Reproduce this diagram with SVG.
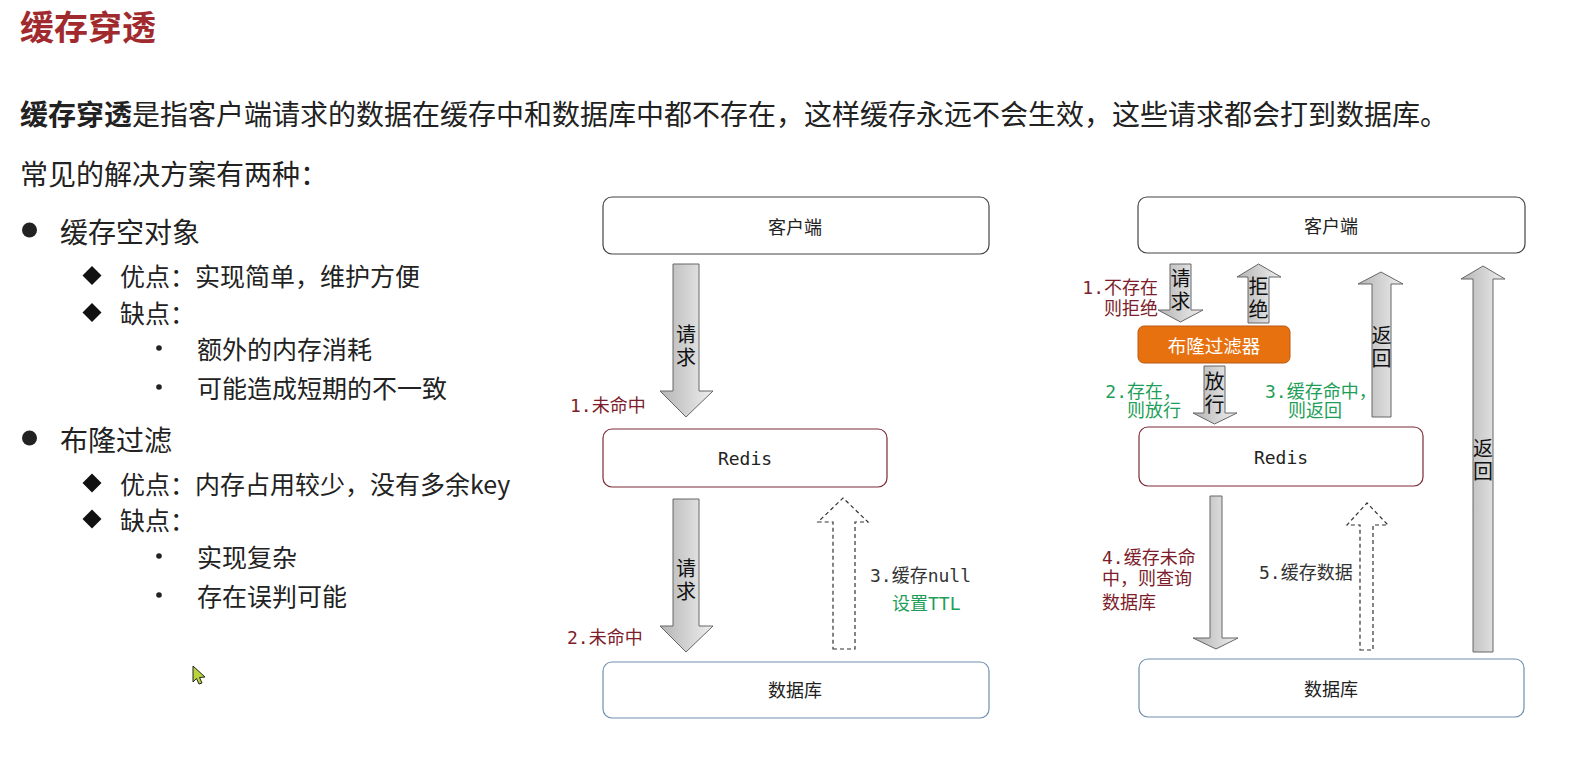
<svg xmlns="http://www.w3.org/2000/svg" width="1572" height="767" viewBox="0 0 1572 767">
<defs>
<linearGradient id="ag" x1="0" y1="0" x2="1" y2="0">
<stop offset="0" stop-color="#b4b4b4"/>
<stop offset="1" stop-color="#efefef"/>
</linearGradient>
<style>
.cjk{font-family:"Noto Sans CJK SC","Noto Sans",sans-serif;fill:#222}
.title{font-size:34px;font-weight:600;fill:#a12a2f}
.l0{font-size:28px}
.l1{font-size:28px}
.l2{font-size:25px}
.dl{font-family:"DejaVu Sans Mono","Noto Sans CJK SC",monospace;font-size:18px}
.red{fill:#7d1d2b}
.green{fill:#1e9e58}
.gray{fill:#333}
.bt{font-family:"Noto Sans CJK SC",sans-serif;font-size:18px;fill:#222}
.mono{font-family:"DejaVu Sans Mono",monospace;font-size:18px;fill:#222}
.vl{font-family:"Noto Sans CJK SC",sans-serif;font-size:20px;fill:#111;writing-mode:tb;letter-spacing:3px}
.box{fill:#fff;stroke:#444;stroke-width:1.2}
.rbox{fill:#fff;stroke:#7a2a35;stroke-width:1.2}
.dbox{fill:#fff;stroke:#7090b0;stroke-width:1.2}
.arr{fill:url(#ag);stroke:#666;stroke-width:1}
.darr{fill:#fff;stroke:#333;stroke-width:1.2;stroke-dasharray:4 3}
text{dominant-baseline:central}
</style>
</defs>
<rect width="1572" height="767" fill="#fff"/>

<g id="text-block">
<text class="cjk title" x="20" y="25">缓存穿透</text>
<text class="cjk l0" x="20" y="113"><tspan font-weight="bold">缓存穿透</tspan>是指客户端请求的数据在缓存中和数据库中都不存在，这样缓存永远不会生效，这些请求都会打到数据库。</text>
<text class="cjk l0" x="20" y="173">常见的解决方案有两种：</text>

<circle cx="29.5" cy="230" r="7.5" fill="#222"/>
<text class="cjk l1" x="60" y="231">缓存空对象</text>
<polygon points="92,266 101.5,275.5 92,285 82.5,275.5" fill="#111"/>
<text class="cjk l2" x="120" y="275">优点：实现简单，维护方便</text>
<polygon points="92,303 101.5,312.5 92,322 82.5,312.5" fill="#111"/>
<text class="cjk l2" x="120" y="312">缺点：</text>
<circle cx="159" cy="348" r="2.8" fill="#222"/>
<text class="cjk l2" x="197" y="348">额外的内存消耗</text>
<circle cx="159" cy="387" r="2.8" fill="#222"/>
<text class="cjk l2" x="197" y="387">可能造成短期的不一致</text>

<circle cx="29.5" cy="438" r="7.5" fill="#222"/>
<text class="cjk l1" x="60" y="439">布隆过滤</text>
<polygon points="92,473.5 101.5,483 92,492.5 82.5,483" fill="#111"/>
<text class="cjk l2" x="120" y="483">优点：内存占用较少，没有多余key</text>
<polygon points="92,509.5 101.5,519 92,528.5 82.5,519" fill="#111"/>
<text class="cjk l2" x="120" y="519">缺点：</text>
<circle cx="159" cy="556" r="2.8" fill="#222"/>
<text class="cjk l2" x="197" y="556">实现复杂</text>
<circle cx="159" cy="595" r="2.8" fill="#222"/>
<text class="cjk l2" x="197" y="595">存在误判可能</text>

<polygon points="193,666 205,677 199.5,677.5 202,683 199,684 196.5,678.5 193,682" fill="#b8d43a" stroke="#222" stroke-width="1"/>
</g>

<g id="L-client">
<rect class="box" x="603" y="197" width="386" height="57" rx="9"/>
<text class="bt" x="795" y="226" text-anchor="middle">客户端</text>
</g>
<g id="L-redis">
<rect class="rbox" x="603" y="429" width="284" height="58" rx="9"/>
<text class="mono" x="745" y="458" text-anchor="middle">Redis</text>
</g>
<g id="L-db">
<rect class="dbox" x="603" y="662" width="386" height="56" rx="9"/>
<text class="bt" x="795" y="689" text-anchor="middle">数据库</text>
</g>

<g id="R-client">
<rect class="box" x="1138" y="197" width="387" height="56" rx="9"/>
<text class="bt" x="1331" y="225" text-anchor="middle">客户端</text>
</g>
<g id="R-bloom">
<rect x="1138" y="326" width="152" height="37" rx="6" fill="#e6710e" stroke="#b95a12" stroke-width="1"/>
<text x="1214" y="345" text-anchor="middle" font-family="Noto Sans CJK SC,sans-serif" font-size="18.5" fill="#fff">布隆过滤器</text>
</g>
<g id="R-redis">
<rect class="rbox" x="1139" y="427" width="284" height="59" rx="9"/>
<text class="mono" x="1281" y="457" text-anchor="middle">Redis</text>
</g>
<g id="R-db">
<rect class="dbox" x="1139" y="659" width="385" height="58" rx="9"/>
<text class="bt" x="1331" y="688" text-anchor="middle">数据库</text>
</g>

<g id="connectors">
<polygon class="arr" points="673,264 699,264 699,391 713,391 686,417 660,391 673,391"/>
<text class="vl" x="686" y="324">请求</text>
<text class="dl red" x="570" y="405">1.未命中</text>

<polygon class="arr" points="673,499 699,499 699,626 713,626 686,652 660,626 673,626"/>
<text class="vl" x="686" y="558">请求</text>
<text class="dl red" x="567" y="637">2.未命中</text>

<polygon class="darr" points="833,649 855,649 855,522 868,522 843,498 818,522 833,522"/>
<text class="dl"><tspan class="gray" x="870" y="575">3.缓存null</tspan><tspan class="green" x="892" y="603">设置TTL</tspan></text>

<polygon class="arr" points="1170,264 1191,264 1191,310 1203,310 1180.5,322 1158,310 1170,310"/>
<text class="vl" x="1180.5" y="268">请求</text>
<text class="dl red" text-anchor="end"><tspan x="1158" y="287">1.不存在</tspan><tspan x="1158" y="308">则拒绝</tspan></text>

<polygon class="arr" points="1248,323 1269,323 1269,277 1281,277 1258.5,264 1237,277 1248,277"/>
<text class="vl" x="1258.5" y="276">拒绝</text>

<polygon class="arr" points="1204,366 1225,366 1225,413 1237,413 1214.5,424 1193,413 1204,413"/>
<text class="vl" x="1214.5" y="371">放行</text>
<text class="dl green" text-anchor="end"><tspan x="1181" y="391">2.存在，</tspan><tspan x="1181" y="410">则放行</tspan></text>

<polygon class="arr" points="1372,417 1391,417 1391,284 1403,284 1381,272 1358,284 1372,284"/>
<text class="vl" x="1381.5" y="325">返回</text>
<text class="dl green"><tspan x="1265" y="391">3.缓存命中，</tspan><tspan x="1288" y="410">则返回</tspan></text>

<polygon class="arr" points="1473,652 1493,652 1493,279 1505,279 1483,266 1461,279 1473,279"/>
<text class="vl" x="1483" y="438">返回</text>

<polygon class="arr" points="1210,496 1222,496 1222,638 1238,638 1216,649 1193,638 1210,638"/>
<text class="dl red"><tspan x="1102" y="557">4.缓存未命</tspan><tspan x="1102" y="578">中，则查询</tspan><tspan x="1102" y="602">数据库</tspan></text>

<polygon class="darr" points="1360,650 1373,650 1373,525 1388,525 1367,503 1347,525 1360,525"/>
<text class="dl gray" x="1259" y="572">5.缓存数据</text>
</g>
</svg>
